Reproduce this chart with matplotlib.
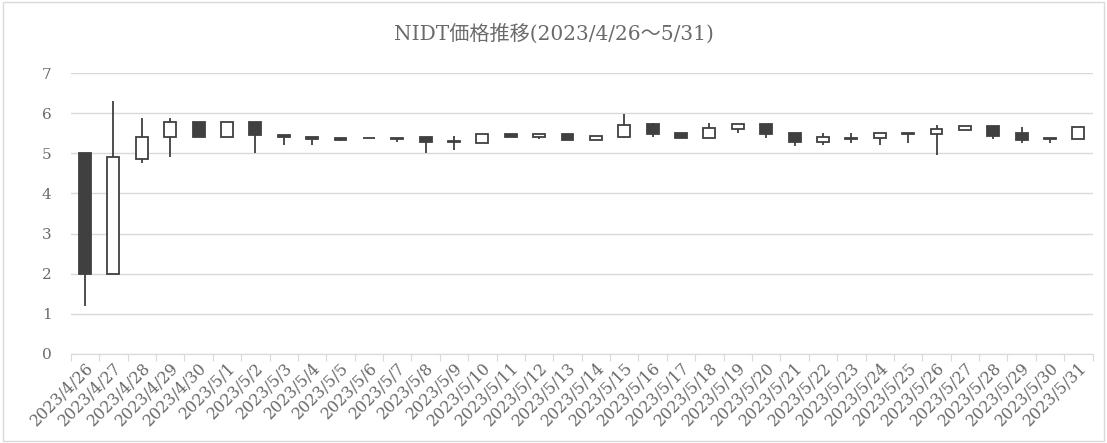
import matplotlib.pyplot as plt
import matplotlib.patches as mpatches

plt.rcParams['font.family'] = ['DejaVu Serif', 'Noto Sans CJK JP']

DATES = ['2023/4/26', '2023/4/27', '2023/4/28', '2023/4/29', '2023/4/30',
         '2023/5/1', '2023/5/2', '2023/5/3', '2023/5/4', '2023/5/5',
         '2023/5/6', '2023/5/7', '2023/5/8', '2023/5/9', '2023/5/10',
         '2023/5/11', '2023/5/12', '2023/5/13', '2023/5/14', '2023/5/15',
         '2023/5/16', '2023/5/17', '2023/5/18', '2023/5/19', '2023/5/20',
         '2023/5/21', '2023/5/22', '2023/5/23', '2023/5/24', '2023/5/25',
         '2023/5/26', '2023/5/27', '2023/5/28', '2023/5/29', '2023/5/30',
         '2023/5/31']
OPEN = [5.00, 2.00, 4.87, 5.40, 5.78, 5.40, 5.77, 5.46, 5.40, 5.37,
        5.39, 5.36, 5.40, 5.29, 5.26, 5.47, 5.40, 5.49, 5.34, 5.41,
        5.72, 5.51, 5.37, 5.61, 5.73, 5.50, 5.28, 5.36, 5.38, 5.50,
        5.48, 5.58, 5.69, 5.50, 5.38, 5.36]
CLOSE = [2.00, 4.90, 5.40, 5.77, 5.40, 5.78, 5.45, 5.40, 5.36, 5.34,
         5.38, 5.39, 5.29, 5.29, 5.47, 5.40, 5.47, 5.34, 5.44, 5.70,
         5.48, 5.37, 5.63, 5.73, 5.48, 5.28, 5.41, 5.38, 5.50, 5.47,
         5.60, 5.69, 5.43, 5.33, 5.35, 5.65]
HIGH = [5.00, 6.30, 5.87, 5.87, 5.78, 5.78, 5.77, 5.46, 5.40, 5.37,
        5.39, 5.39, 5.40, 5.43, 5.47, 5.47, 5.47, 5.49, 5.44, 5.98,
        5.76, 5.51, 5.75, 5.73, 5.73, 5.50, 5.50, 5.50, 5.50, 5.50,
        5.70, 5.69, 5.69, 5.66, 5.38, 5.65]
LOW = [1.20, 2.00, 4.75, 4.90, 5.40, 5.40, 5.00, 5.20, 5.21, 5.30,
       5.38, 5.28, 5.00, 5.08, 5.26, 5.40, 5.36, 5.34, 5.34, 5.39,
       5.41, 5.37, 5.37, 5.50, 5.39, 5.19, 5.21, 5.25, 5.21, 5.27,
       4.96, 5.58, 5.35, 5.25, 5.27, 5.36]

EDGE = '#404040'
TEXT = '#6a6a6a'
fig = plt.figure(figsize=(11.07, 4.43), dpi=100)
ax = fig.add_axes([0.064, 0.201, 0.923, 0.634])

x = list(range(len(DATES)))
ax.vlines(x, LOW, HIGH, color=EDGE, linewidth=1.3, zorder=2)
for i in x:
    up = CLOSE[i] >= OPEN[i]
    bottom = min(OPEN[i], CLOSE[i])
    h = max(abs(CLOSE[i] - OPEN[i]), 0.01)
    ax.bar(i, h, bottom=bottom, width=0.42,
           color='white' if up else EDGE, edgecolor=EDGE,
           linewidth=1.3, zorder=3)

ax.set_xlim(-0.5, len(DATES) - 0.5)
ax.set_ylim(0, 7)
ax.set_yticks(range(0, 8))
ax.yaxis.grid(True, color='#d9d9d9', linewidth=1)
ax.set_axisbelow(True)
for s in ['top', 'right', 'left']:
    ax.spines[s].set_visible(False)
ax.spines['bottom'].set_color('#d9d9d9')
ax.tick_params(axis='y', length=0, labelsize=11, labelcolor=TEXT, pad=14)

ax.set_xticks([i - 0.5 for i in x] + [len(DATES) - 0.5], minor=False)
ax.set_xticklabels([''] * (len(DATES) + 1))
ax.tick_params(axis='x', which='major', length=5, color='#d9d9d9')
ax.set_xticks(x, minor=True)
ax.set_xticklabels(DATES, minor=True, rotation=45, ha='right',
                   rotation_mode='anchor', fontsize=11.5, color=TEXT)
ax.tick_params(axis='x', which='minor', length=0, pad=4)

fig.text(0.5, 0.925, 'NIDT価格推移(2023/4/26〜5/31)', ha='center', va='center',
         fontsize=14.5, color=TEXT)
fig.patches.append(mpatches.Rectangle((0.003, 0.005), 0.994, 0.99, transform=fig.transFigure,
                                      fill=False, edgecolor='#d9d9d9', linewidth=1))

fig.savefig('out.png', dpi=100)
